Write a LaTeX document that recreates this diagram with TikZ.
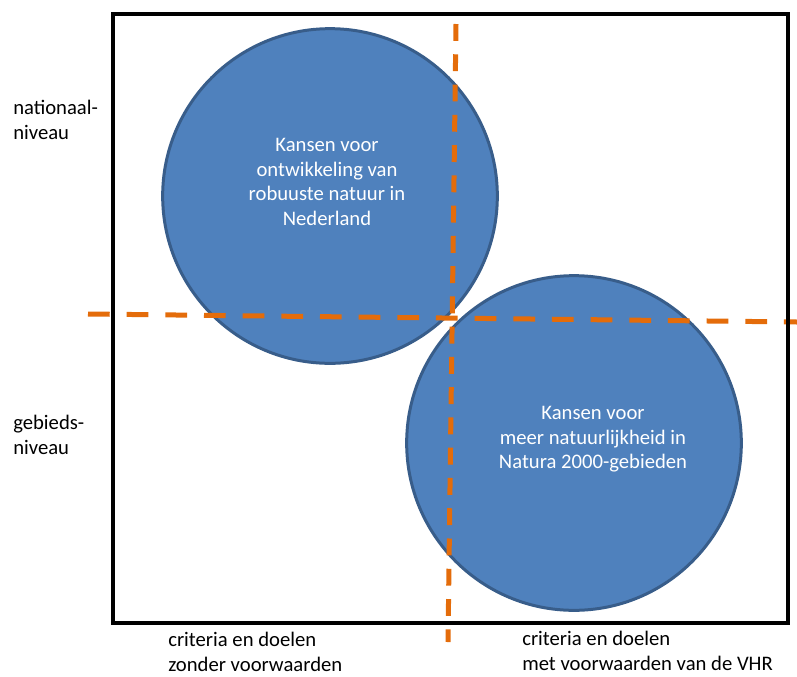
\documentclass[tikz,border=0pt]{standalone}
\usepackage{fontspec}
\setmainfont{Carlito}
\usetikzlibrary{positioning}
\definecolor{kansblauw}{HTML}{4F81BD}
\definecolor{kansrand}{HTML}{385D8A}
\definecolor{grensoranje}{HTML}{E46C0A}

\begin{document}
\begin{tikzpicture}[x=0.75pt,y=-0.75pt,
        kans/.style={circle, draw=kansrand, fill=kansblauw, line width=2.25pt, minimum size=251pt, inner sep=0pt},
        kanstekst/.style={text=white, align=center, anchor=north, inner sep=0pt, font=\fontsize{15.5}{18.5}\selectfont},
        astekst/.style={align=left, anchor=north west, inner sep=0pt, font=\fontsize{15.5}{18.75}\selectfont},
        grens/.style={draw=grensoranje, line width=3.75pt}]
        \useasboundingbox (0,0) rectangle (797,676);

        \node[kans] (robuust) at (330,196) {};
        \node[kans] (natura) at (574,443) {};
        \node[kanstekst] (robuusttekst) at (327,138) {Kansen voor\\ontwikkeling van\\robuuste natuur in\\Nederland};
        \node[kanstekst] (naturatekst) at (593,406) {Kansen voor\\meer natuurlijkheid in\\Natura 2000-gebieden};

        \coordinate (vboven) at (456,24);
        \coordinate (vonder) at (448,642);
        \coordinate (hlinks) at (88,314);
        \coordinate (hrechts) at (797,322);
        \draw[grens, dash pattern=on 12.7pt off 10pt] (vboven) -- (vonder);
        \draw[grens, dash pattern=on 16.3pt off 12.7pt] (hlinks) -- (hrechts);

        \draw[line width=2.5pt] (113,14) rectangle (788,623);

        \node[astekst] (nationaal) at (13,99.5) {nationaal-\\niveau};
        \node[astekst] (gebied) at (13,414.5) {gebieds-\\niveau};
        \node[astekst] (zonder) at (168,632) {criteria en doelen\\zonder voorwaarden};
        \node[astekst] (met) at (522,630.5) {criteria en doelen\\met voorwaarden van de VHR};
    \end{tikzpicture}
\end{document}
